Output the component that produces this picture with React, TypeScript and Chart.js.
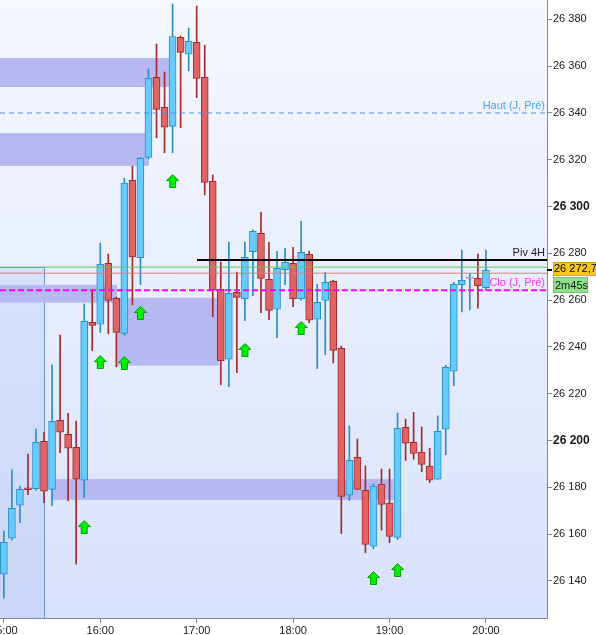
import React, { useEffect, useRef } from "react";
import { Chart, registerables } from "chart.js";

Chart.register(...registerables);

// minutes since 15:00 (5-minute candles)
const times = [
  0, 5, 10, 15, 20, 25, 30, 35, 40, 45, 50, 55, 60, 65, 70, 75, 80, 85, 90, 95,
  100, 105, 110, 115, 120, 125, 130, 135, 140, 145, 150, 155, 160, 165, 170, 175,
  180, 185, 190, 195, 200, 205, 210, 215, 220, 225, 230, 235, 240, 245, 250, 255,
  260, 265, 270, 275, 280, 285, 290, 295, 300,
];
const opens = [
  26142.8, 26158.2, 26172.3, 26179.7, 26179.4, 26199.6, 26179.1, 26208.6, 26202.6, 26197.1,
  26183.0, 26250.5, 26249.7, 26275.7, 26260.8, 26245.8, 26311.2, 26278.1, 26321.0, 26355.2,
  26342.4, 26334.3, 26372.3, 26365.1, 26370.2, 26355.2, 26310.8, 26264.6, 26234.7, 26263.3,
  26260.6, 26280.7, 26288.5, 26268.9, 26256.1, 26273.0, 26275.7, 26260.6, 26279.6, 26251.8,
  26259.9, 26268.0, 26239.4, 26176.6, 26192.8, 26178.7, 26154.8, 26181.3, 26173.2, 26158.6,
  26205.6, 26199.2, 26195.0, 26189.0, 26183.4, 26204.8, 26229.6, 26266.6, 26269.4, 26269.3,
  26265.3,
];
const highs = [
  26161.3, 26187.4, 26180.5, 26194.2, 26204.9, 26203.5, 26232.3, 26245.1, 26211.6, 26208.3,
  26258.3, 26264.6, 26284.4, 26279.7, 26261.3, 26312.1, 26317.3, 26321.0, 26358.8, 26369.5,
  26357.5, 26386.6, 26372.9, 26376.3, 26385.7, 26369.0, 26313.5, 26276.3, 26284.8, 26272.0,
  26284.8, 26290.0, 26297.5, 26284.7, 26280.9, 26282.1, 26282.6, 26293.7, 26280.9, 26266.8,
  26271.9, 26268.5, 26240.4, 26206.2, 26200.6, 26189.1, 26181.4, 26187.8, 26187.8, 26211.7,
  26209.1, 26212.0, 26205.8, 26196.7, 26210.5, 26232.1, 26267.6, 26281.4, 26271.2, 26279.7,
  26281.4,
];
const lows = [
  26132.6, 26157.5, 26164.9, 26176.8, 26178.8, 26173.4, 26172.1, 26194.8, 26174.3, 26147.1,
  26175.7, 26238.4, 26246.2, 26245.6, 26231.5, 26245.0, 26258.0, 26266.6, 26320.4, 26329.4,
  26323.0, 26323.0, 26333.7, 26358.0, 26346.5, 26305.0, 26252.9, 26223.8, 26223.0, 26229.0,
  26251.2, 26261.9, 26254.6, 26251.6, 26243.9, 26266.6, 26257.2, 26260.0, 26250.3, 26230.7,
  26236.7, 26233.2, 26160.2, 26174.3, 26179.0, 26152.0, 26153.7, 26161.7, 26156.3, 26157.6,
  26191.4, 26192.0, 26186.7, 26182.0, 26183.3, 26193.9, 26223.4, 26255.0, 26255.8, 26256.6,
  26264.3,
];
const closes = [
  26156.5, 26171.0, 26179.1, 26179.0, 26199.2, 26178.3, 26208.2, 26203.5, 26196.7, 26183.4,
  26250.9, 26249.2, 26275.3, 26259.9, 26246.2, 26310.0, 26278.5, 26320.6, 26354.8, 26341.5,
  26333.9, 26372.7, 26365.9, 26370.6, 26354.8, 26310.3, 26264.2, 26234.1, 26262.9, 26261.2,
  26278.3, 26289.4, 26269.3, 26255.6, 26273.6, 26276.2, 26260.6, 26280.4, 26251.4, 26259.1,
  26267.6, 26238.5, 26176.1, 26191.5, 26179.1, 26155.6, 26180.5, 26172.7, 26159.0, 26205.2,
  26198.8, 26194.5, 26189.8, 26183.0, 26203.9, 26231.3, 26266.8, 26268.5, 26269.8, 26266.2,
  26272.7,
];

// buy arrows
const arrowTimes = [50, 60, 75, 85, 105, 150, 185, 230, 245];
const arrowPrices = [26163.0, 26233.5, 26233.1, 26254.5, 26310.9, 26238.7, 26248.1, 26141.2, 26144.6];

// horizontal levels
const hautPre = 26340.0;
const piv4h = 26277.1;
const piv4hStart = 120.2;
const greenLevel = 26274.1;
const redLevel = 26271.5;
const cloPre = 26264.2;

// supply/demand zones
const zoneStart = [-2.4, -2.4, -2.4, 70.4, 29.3];
const zoneEnd = [104.0, 90.3, 70.4, 133.8, 242.5];
const zoneTop = [26363.5, 26331.4, 26266.5, 26261.0, 26183.5];
const zoneBottom = [26351.1, 26317.4, 26258.9, 26232.0, 26174.6];

// session box
const sessionEnd = 25.1;
const sessionTop = 26274.3;

// axes
const xMin = -2.4;
const xMax = 338;
const yMin = 26124.1;
const yMax = 26388.3;
const yTickValues = [26140, 26160, 26180, 26200, 26220, 26240, 26260, 26280, 26300, 26320, 26340, 26360, 26380];
const yBoldTicks = [26200, 26300];
const xTickValues = [0, 60, 120, 180, 240, 300];
const xTickLabels = ["15:00", "16:00", "17:00", "18:00", "19:00", "20:00"];

const lastPriceLabel = "26 272,7";
const timerLabel = "2m45s";

const FONT = "'Liberation Sans', Arial, sans-serif";
const BLUE_FILL = "#66ccff";
const BLUE_LINE = "#2a8fc9";
const RED_FILL = "#e06464";
const RED_LINE = "#a32a2a";
const AXIS = "#7d8b99";

function fmtPrice(v: number) {
  const th = Math.floor(v / 1000);
  const rest = String(Math.round(v % 1000)).padStart(3, "0");
  return `${th} ${rest}`;
}

function makeArrow(): HTMLCanvasElement {
  const c = document.createElement("canvas");
  c.width = 13;
  c.height = 14;
  const g = c.getContext("2d")!;
  g.beginPath();
  g.moveTo(6.5, 0.5);
  g.lineTo(12.5, 6.5);
  g.lineTo(9.5, 6.5);
  g.lineTo(9.5, 13.5);
  g.lineTo(3.5, 13.5);
  g.lineTo(3.5, 6.5);
  g.lineTo(0.5, 6.5);
  g.closePath();
  g.fillStyle = "#00ee00";
  g.fill();
  g.strokeStyle = "#00a000";
  g.lineWidth = 1;
  g.stroke();
  return c;
}

const overlayPlugin = {
  id: "overlay",
  beforeDraw(chart: any) {
    const { ctx, chartArea: a, width, height } = chart;
    ctx.save();
    ctx.fillStyle = "#ffffff";
    ctx.fillRect(0, 0, width, height);
    const g = ctx.createLinearGradient(0, a.top, 0, a.bottom);
    g.addColorStop(0, "#f5f8fe");
    g.addColorStop(1, "#d9e2fb");
    ctx.fillStyle = g;
    ctx.fillRect(a.left, a.top, a.right - a.left, a.bottom - a.top);
    ctx.restore();
  },
  beforeDatasetsDraw(chart: any) {
    const { ctx, chartArea: a } = chart;
    const x = chart.scales.x;
    const y = chart.scales.y;
    ctx.save();
    ctx.beginPath();
    ctx.rect(a.left, a.top, a.right - a.left, a.bottom - a.top);
    ctx.clip();
    // session box
    const sx1 = x.getPixelForValue(sessionEnd);
    const sy0 = y.getPixelForValue(sessionTop);
    ctx.fillStyle = "rgba(110,140,235,0.13)";
    ctx.fillRect(a.left, sy0, sx1 - a.left, a.bottom - sy0);
    ctx.strokeStyle = "#6d90e0";
    ctx.lineWidth = 1;
    ctx.beginPath();
    ctx.moveTo(a.left, Math.round(sy0) + 0.5);
    ctx.lineTo(Math.round(sx1) + 0.5, Math.round(sy0) + 0.5);
    ctx.lineTo(Math.round(sx1) + 0.5, a.bottom);
    ctx.stroke();
    // zones
    ctx.fillStyle = "#b6b8f2";
    for (let i = 0; i < zoneStart.length; i++) {
      const x0 = x.getPixelForValue(zoneStart[i]);
      const x1 = x.getPixelForValue(zoneEnd[i]);
      const y0 = y.getPixelForValue(zoneTop[i]);
      const y1 = y.getPixelForValue(zoneBottom[i]);
      ctx.fillRect(x0, y0, x1 - x0, y1 - y0);
    }
    ctx.restore();
  },
  afterDatasetsDraw(chart: any) {
    const { ctx, chartArea: a } = chart;
    const y = chart.scales.y;
    ctx.save();
    ctx.font = `11px ${FONT}`;
    ctx.textAlign = "right";
    ctx.textBaseline = "middle";
    const lbl = (t: string, v: number, c: string) => {
      ctx.fillStyle = c;
      ctx.fillText(t, a.right - 2, y.getPixelForValue(v) - 7);
    };
    lbl("Haut (J, Pré)", hautPre, "#4aa3f5");
    lbl("Piv 4H", piv4h, "#1a1a2a");
    lbl("Clo (J, Pré)", cloPre, "#ff33ff");
    ctx.restore();
  },
  afterDraw(chart: any) {
    const { ctx, chartArea: a } = chart;
    const y = chart.scales.y;
    const yc = Math.round(y.getPixelForValue(closes[closes.length - 1]));
    ctx.save();
    // tick mark
    ctx.fillStyle = "#000";
    ctx.fillRect(a.right, yc - 1, 5, 2);
    // price box
    ctx.fillStyle = "#f8c81c";
    ctx.fillRect(a.right + 6, yc - 8, 44, 14);
    ctx.strokeStyle = "#e2a400";
    ctx.lineWidth = 1;
    ctx.strokeRect(a.right + 6.5, yc - 7.5, 44, 13);
    ctx.fillStyle = "#000";
    ctx.font = `11px ${FONT}`;
    ctx.textAlign = "left";
    ctx.textBaseline = "middle";
    ctx.fillText(lastPriceLabel, a.right + 7, yc - 1);
    // timer box
    ctx.fillStyle = "#8fdf8f";
    ctx.fillRect(a.right + 6, yc + 7, 35, 16);
    ctx.strokeStyle = "#70c870";
    ctx.strokeRect(a.right + 6.5, yc + 7.5, 34, 15);
    ctx.fillStyle = "#0c200c";
    ctx.font = `11px ${FONT}`;
    ctx.fillText(timerLabel, a.right + 8, yc + 15.5);
    ctx.restore();
  },
};

export default function App() {
  const ref = useRef<HTMLCanvasElement | null>(null);

  useEffect(() => {
    if (!ref.current) return;
    const arrow = makeArrow();
    const isUp = (i: number) => closes[i] >= opens[i];
    const span = (v: number) => [{ x: xMin, y: v }, { x: xMax, y: v }];

    const chart = new Chart(ref.current, {
      type: "bar",
      data: {
        datasets: [
          {
            type: "scatter",
            label: "arrows",
            data: arrowTimes.map((t, i) => ({ x: t, y: arrowPrices[i] })),
            pointStyle: arrow as any,
            pointRadius: 6,
            showLine: false,
            order: 0,
          } as any,
          {
            type: "line",
            label: "haut",
            data: span(hautPre),
            borderColor: "#4a90e2",
            borderWidth: 1,
            borderDash: [5, 4],
            pointRadius: 0,
            order: 1,
          },
          {
            type: "line",
            label: "clo",
            data: span(cloPre),
            borderColor: "#ff00ff",
            borderWidth: 2,
            borderDash: [6, 3],
            pointRadius: 0,
            order: 1,
          },
          {
            type: "line",
            label: "green",
            data: span(greenLevel),
            borderColor: "#5cc85c",
            borderWidth: 1,
            pointRadius: 0,
            order: 1,
          },
          {
            type: "line",
            label: "red",
            data: span(redLevel),
            borderColor: "#d97b7b",
            borderWidth: 1,
            pointRadius: 0,
            order: 1,
          },
          {
            type: "line",
            label: "piv",
            data: [{ x: piv4hStart, y: piv4h }, { x: xMax, y: piv4h }],
            borderColor: "#000000",
            borderWidth: 2,
            pointRadius: 0,
            order: 1,
          },
          {
            type: "bar",
            label: "bodies",
            data: times.map((t, i) => ({ x: t, y: [opens[i], closes[i]] })) as any,
            backgroundColor: (c: any) => (isUp(c.dataIndex) ? BLUE_FILL : RED_FILL),
            borderColor: (c: any) => (isUp(c.dataIndex) ? BLUE_LINE : RED_LINE),
            borderWidth: 1,
            borderSkipped: false,
            barThickness: 7,
            grouped: false,
            order: 3,
          } as any,
          {
            type: "bar",
            label: "wicks",
            data: times.map((t, i) => ({ x: t, y: [lows[i], highs[i]] })) as any,
            backgroundColor: (c: any) => (isUp(c.dataIndex) ? BLUE_LINE : RED_LINE),
            borderWidth: 0,
            barThickness: 1,
            grouped: false,
            order: 4,
          } as any,
        ],
      },
      options: {
        responsive: false,
        devicePixelRatio: 1,
        animation: false,
        events: [],
        layout: { padding: 0, autoPadding: false },
        plugins: {
          legend: { display: false },
          tooltip: { enabled: false },
        },
        scales: {
          x: {
            type: "linear",
            min: xMin,
            max: xMax,
            offset: false,
            grid: { display: true, drawOnChartArea: false, drawTicks: true, tickLength: 5, color: AXIS, offset: false },
            border: { display: true, color: AXIS, width: 1 },
            ticks: {
              autoSkip: false,
              maxRotation: 0,
              padding: 1,
              color: "#1a1a1a",
              font: { family: FONT, size: 11 },
              callback: (v: any) => {
                const k = xTickValues.indexOf(Number(v));
                return k >= 0 ? xTickLabels[k] : "";
              },
            },
            afterBuildTicks: (s: any) => {
              s.ticks = xTickValues.map((v) => ({ value: v }));
            },
            afterFit: (s: any) => {
              s.height = 17;
              s.paddingLeft = 0;
              s.paddingRight = 0;
            },
          },
          y: {
            type: "linear",
            position: "right",
            min: yMin,
            max: yMax,
            grid: { display: true, drawOnChartArea: false, drawTicks: true, tickLength: 5, color: AXIS },
            border: { display: true, color: AXIS, width: 1 },
            ticks: {
              autoSkip: false,
              padding: 1,
              color: "#1a1a1a",
              font: (c: any) =>
                c.tick && yBoldTicks.includes(c.tick.value)
                  ? { family: FONT, size: 12, weight: "bold" }
                  : { family: FONT, size: 11 },
              callback: (v: any) => fmtPrice(Number(v)),
            },
            afterBuildTicks: (s: any) => {
              s.ticks = yTickValues.map((v) => ({ value: v }));
            },
            afterFit: (s: any) => {
              s.width = 49;
              s.paddingTop = 0;
              s.paddingBottom = 0;
            },
          },
        },
      } as any,
      plugins: [overlayPlugin],
    });
    return () => chart.destroy();
  }, []);

  return (
    <div style={{ position: "absolute", left: 0, top: 0, width: 596, height: 635 }}>
      <canvas ref={ref} width={596} height={635} style={{ display: "block", width: 596, height: 635 }} />
    </div>
  );
}
